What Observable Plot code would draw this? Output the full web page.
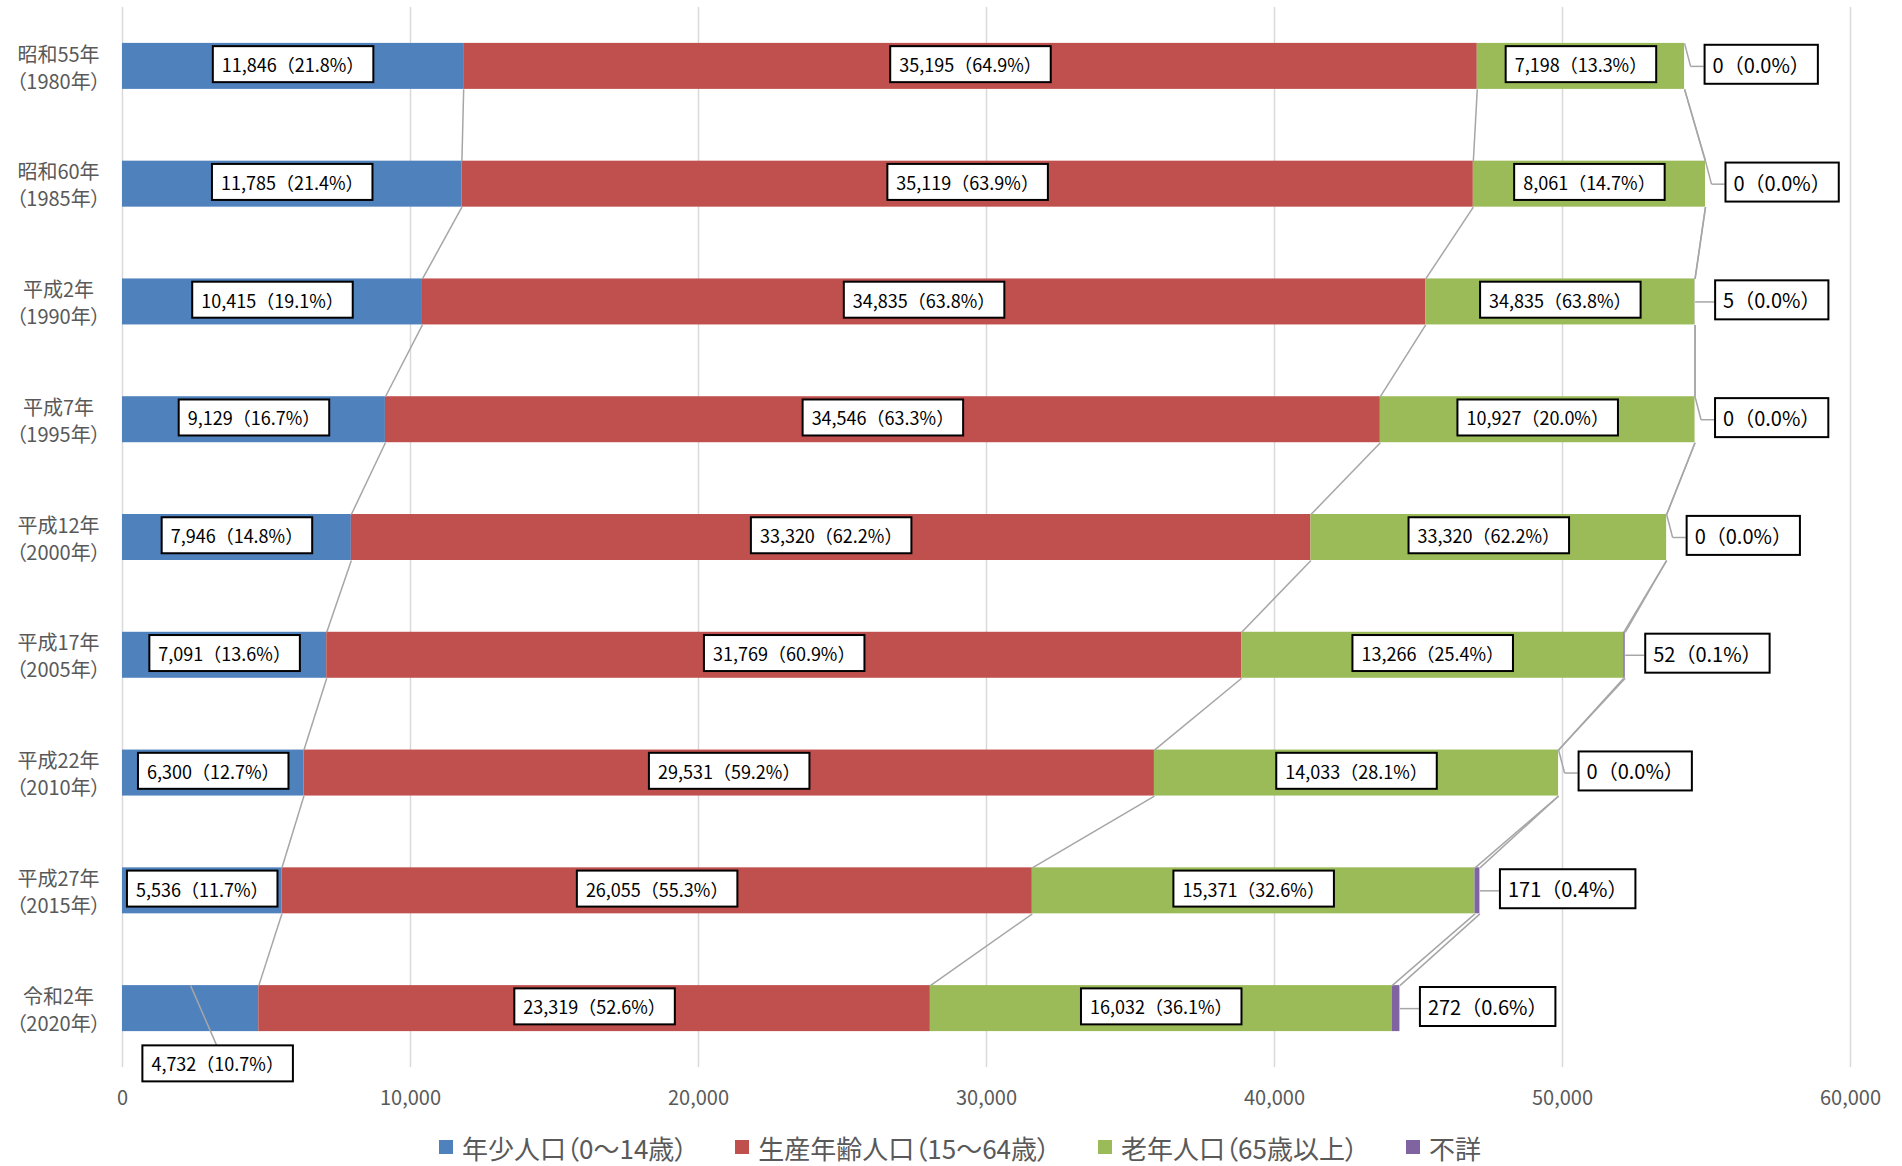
<!DOCTYPE html>
<html><head><meta charset="utf-8">
<script src="https://cdn.jsdelivr.net/npm/d3@7"></script>
<script src="https://cdn.jsdelivr.net/npm/@observablehq/plot@0.6"></script>
<style>
body{margin:0;background:#fff;font-family:"Noto Sans CJK JP","Noto Sans",sans-serif;}
#chart svg{display:block;}
g[aria-description="ylabels"] text{font-feature-settings:"palt";}
#legend{display:flex;justify-content:center;align-items:center;height:46px;padding-top:4px;padding-left:18px;color:#595959;font-size:26px;font-feature-settings:"palt";}
#legend .item{display:flex;align-items:center;margin:0 24px;}
#legend .sw{width:14px;height:14px;margin-right:9px;}
</style></head><body>
<div id="chart"></div>
<div id="legend"></div>
<script>
// ---- data ----
const eraLabels = ["昭和55年","昭和60年","平成2年","平成7年","平成12年","平成17年","平成22年","平成27年","令和2年"];
const yearLabels = ["（1980年）","（1985年）","（1990年）","（1995年）","（2000年）","（2005年）","（2010年）","（2015年）","（2020年）"];
const seriesNames = ["年少人口（0～14歳）","生産年齢人口（15～64歳）","老年人口（65歳以上）","不詳"];
const seriesColors = ["#4F81BD","#C0504D","#9BBB59","#8064A2"];
const young = [11846,11785,10415,9129,7946,7091,6300,5536,4732];
const working = [35195,35119,34835,34546,33320,31769,29531,26055,23319];
const elderly = [7198,8061,9350,10927,12350,13266,14033,15371,16032];
const unknown = [0,0,5,0,0,52,0,171,272];
const youngLabels = ["11,846（21.8%）","11,785（21.4%）","10,415（19.1%）","9,129（16.7%）","7,946（14.8%）","7,091（13.6%）","6,300（12.7%）","5,536（11.7%）","4,732（10.7%）"];
const workingLabels = ["35,195（64.9%）","35,119（63.9%）","34,835（63.8%）","34,546（63.3%）","33,320（62.2%）","31,769（60.9%）","29,531（59.2%）","26,055（55.3%）","23,319（52.6%）"];
const elderlyLabels = ["7,198（13.3%）","8,061（14.7%）","34,835（63.8%）","10,927（20.0%）","33,320（62.2%）","13,266（25.4%）","14,033（28.1%）","15,371（32.6%）","16,032（36.1%）"];
const unknownLabels = ["0（0.0%）","0（0.0%）","5（0.0%）","0（0.0%）","0（0.0%）","52（0.1%）","0（0.0%）","171（0.4%）","272（0.6%）"];
const xTicks = [0,10000,20000,30000,40000,50000,60000];

// ---- layout constants ----
const W = 1902, H = 1120, mL = 122, mR = 52, mT = 7, mB = 53;
const xMax = 60000;
const pxX = xMax / (W - mL - mR);          // data units per pixel (x)
const pxY = 9 / (H - mT - mB);             // data units per pixel (y)
const half = 23 * pxY;                     // half bar thickness

const n = young.length;
const idx = d3.range(n);
const c1 = idx.map(i => young[i]);
const c2 = idx.map(i => c1[i] + working[i]);
const c3 = idx.map(i => c2[i] + elderly[i]);
const c4 = idx.map(i => c3[i] + unknown[i]);

const bars = [];
idx.forEach(i => {
  bars.push({i, s: seriesNames[0], x1: 0, x2: c1[i]});
  bars.push({i, s: seriesNames[1], x1: c1[i], x2: c2[i]});
  bars.push({i, s: seriesNames[2], x1: c2[i], x2: c3[i]});
  bars.push({i, s: seriesNames[3], x1: c3[i], x2: c4[i]});
});

const seriesLines = [];
[c1, c2, c3, c4].forEach(c => {
  for (let i = 0; i < n - 1; i++) seriesLines.push({x1: c[i], y1: i + half, x2: c[i+1], y2: i + 1 - half});
});

const inner = [];
idx.forEach(i => {
  if (i !== n - 1) inner.push({x: c1[i] / 2, y: i, t: youngLabels[i]});
  inner.push({x: (c1[i] + c2[i]) / 2, y: i, t: workingLabels[i]});
  inner.push({x: (c2[i] + c3[i]) / 2, y: i, t: elderlyLabels[i]});
});
const lastYoung = [{x: c1[n-1] / 2, y: n - 1, t: youngLabels[n-1]}];
const lastLeader = [{x1: c1[n-1] / 2, y1: n - 1 - half, x2: c1[n-1] / 2 + 27 * pxX, y2: n - 1 + 39 * pxY}];

const outer = idx.map(i => ({x: c4[i], y: i, t: unknownLabels[i]}));
const leaders = [];
idx.forEach(i => {
  if (unknown[i] === 0) {
    leaders.push({x1: c4[i], y1: i - half, x2: c4[i] + 6 * pxX, y2: i});
    leaders.push({x1: c4[i] + 6 * pxX, y1: i, x2: c4[i] + 19 * pxX, y2: i});
  } else {
    leaders.push({x1: c4[i], y1: i, x2: c4[i] + 19 * pxX, y2: i});
  }
});

const yl = idx.map(i => ({y: i, t: eraLabels[i] + "\n" + yearLabels[i]}));

const plot = Plot.plot({
  width: W, height: H,
  marginLeft: mL, marginRight: mR, marginTop: mT, marginBottom: mB,
  style: {fontFamily: '"Noto Sans CJK JP","Noto Sans",sans-serif', fontSize: "20px", color: "#595959", background: "white"},
  x: {domain: [0, xMax], ticks: xTicks, tickFormat: d3.format(","), tickSize: 0, tickPadding: 23, label: null},
  y: {domain: [-0.5, n - 0.5], reverse: true, axis: null},
  color: {domain: seriesNames, range: seriesColors},
  marks: [
    Plot.ruleX(xTicks, {stroke: "#d9d9d9", strokeWidth: 1.5}),
    Plot.rect(bars, {x1: "x1", x2: "x2", y1: d => d.i - half, y2: d => d.i + half, fill: "s"}),
    Plot.link(seriesLines, {x1: "x1", y1: "y1", x2: "x2", y2: "y2", stroke: "#a6a6a6", strokeWidth: 1.5}),
    Plot.link(lastLeader, {x1: "x1", y1: "y1", x2: "x2", y2: "y2", stroke: "#a6a6a6", strokeWidth: 1.5}),
    Plot.link(leaders, {x1: "x1", y1: "y1", x2: "x2", y2: "y2", stroke: "#a6a6a6", strokeWidth: 1.5}),
    Plot.text(yl, {y: "y", text: "t", frameAnchor: "left", dx: -64, textAnchor: "middle", lineHeight: 1.35, fontSize: 20, fill: "#595959", ariaDescription: "ylabels"}),
    Plot.text(inner, {x: "x", y: "y", text: "t", fontSize: 18, fill: "black", ariaDescription: "boxed18"}),
    Plot.text(lastYoung, {x: "x", y: "y", text: "t", dx: 27, dy: 57, fontSize: 18, fill: "black", ariaDescription: "boxed18b"}),
    Plot.text(outer, {x: "x", y: "y", text: "t", dx: 28, textAnchor: "start", fontSize: 20, fill: "black", ariaDescription: "boxed20"})
  ]
});
document.getElementById("chart").appendChild(plot);

function addBoxes(label, padX, padY) {
  plot.querySelectorAll(`g[aria-description="${label}"] text`).forEach(t => {
    const b = t.getBBox();
    const r = document.createElementNS("http://www.w3.org/2000/svg", "rect");
    r.setAttribute("x", b.x - padX);
    r.setAttribute("y", b.y - padY);
    r.setAttribute("width", b.width + 2 * padX);
    r.setAttribute("height", b.height + 2 * padY);
    if (t.getAttribute("transform")) r.setAttribute("transform", t.getAttribute("transform"));
    r.setAttribute("fill", "white");
    r.setAttribute("stroke", "black");
    r.setAttribute("stroke-width", 2);
    t.parentNode.insertBefore(r, t);
  });
}
addBoxes("boxed18", 9, 5);
addBoxes("boxed18b", 9, 5);
addBoxes("boxed20", 8, 5);

const lg = d3.select("#legend");
seriesNames.forEach((s, k) => {
  const it = lg.append("div").attr("class", "item");
  it.append("div").attr("class", "sw").style("background", seriesColors[k]);
  it.append("span").text(s);
});
</script>
</body></html>
